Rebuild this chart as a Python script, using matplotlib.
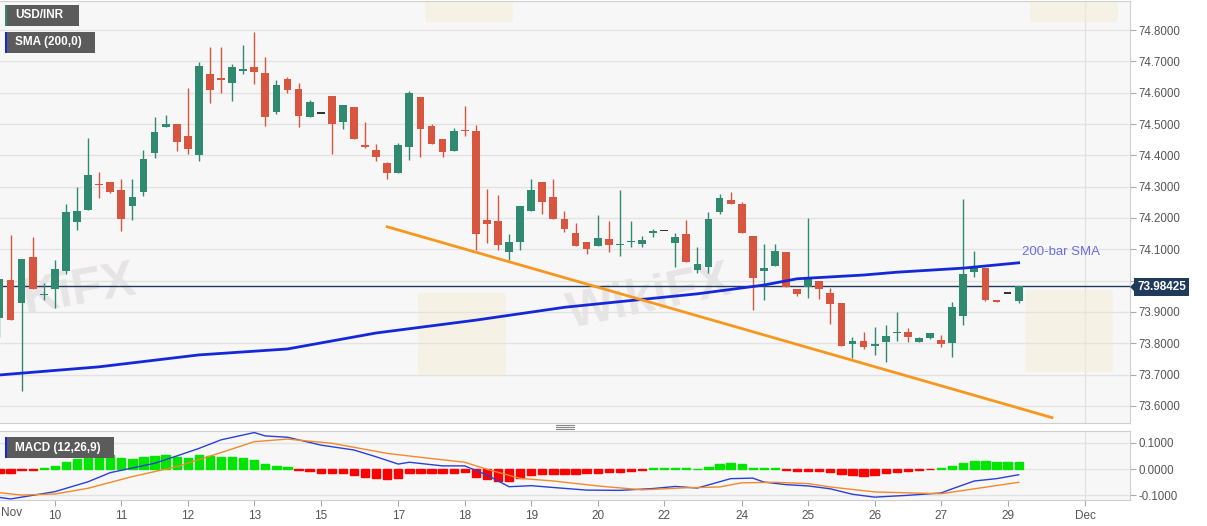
import numpy as np
import matplotlib.pyplot as plt
from matplotlib.patches import Rectangle, FancyBboxPatch, Polygon
from matplotlib.lines import Line2D

plt.rcParams['font.family'] = ['Liberation Sans', 'DejaVu Sans']

W, H = 1207, 526

# 4H candles, USD/INR
opens = [73.882, 74.002, 73.928, 74.076, 73.955, 73.972, 74.032, 74.186, 74.225, 74.309,
         74.314, 74.288, 74.239, 74.282, 74.409, 74.489, 74.500, 74.462, 74.401, 74.660,
         74.646, 74.632, 74.670, 74.683, 74.662, 74.539, 74.644, 74.612, 74.522, 74.536,
         74.589, 74.506, 74.555, 74.433, 74.417, 74.375, 74.344, 74.428, 74.587, 74.494,
         74.452, 74.414, 74.481, 74.479, 74.194, 74.192, 74.092, 74.122, 74.223, 74.314,
         74.266, 74.198, 74.153, 74.124, 74.110, 74.133, 74.114, 74.123, 74.116, 74.152,
         74.160, 74.119, 74.148, 74.034, 74.043, 74.218, 74.257, 74.244, 74.143, 74.032,
         74.048, 74.092, 73.972, 73.979, 74.000, 73.960, 73.930, 73.798, 73.806, 73.794,
         73.805, 73.833, 73.837, 73.805, 73.816, 73.811, 73.800, 73.888, 74.029, 74.040,
         73.938, 73.960, 73.935]
highs = [74.004, 74.146, 74.069, 74.140, 73.993, 74.066, 74.244, 74.298, 74.454, 74.348,
         74.314, 74.326, 74.323, 74.417, 74.521, 74.529, 74.500, 74.614, 74.697, 74.745,
         74.745, 74.691, 74.752, 74.793, 74.713, 74.640, 74.651, 74.630, 74.577, 74.536,
         74.589, 74.561, 74.555, 74.506, 74.435, 74.380, 74.438, 74.605, 74.587, 74.500,
         74.452, 74.486, 74.557, 74.497, 74.292, 74.273, 74.148, 74.238, 74.326, 74.314,
         74.326, 74.223, 74.183, 74.124, 74.209, 74.190, 74.289, 74.190, 74.144, 74.165,
         74.160, 74.151, 74.194, 74.107, 74.218, 74.277, 74.282, 74.250, 74.143, 74.117,
         74.117, 74.092, 73.972, 74.201, 74.000, 73.976, 73.930, 73.819, 73.835, 73.851,
         73.858, 73.899, 73.848, 73.820, 73.834, 73.827, 73.933, 74.261, 74.096, 74.042,
         73.938, 73.960, 73.984]
lows = [73.821, 73.874, 73.648, 73.972, 73.938, 73.912, 74.021, 74.163, 74.225, 74.265,
        74.279, 74.159, 74.194, 74.270, 74.390, 74.489, 74.414, 74.404, 74.382, 74.566,
        74.598, 74.572, 74.660, 74.627, 74.495, 74.531, 74.600, 74.490, 74.522, 74.536,
        74.404, 74.484, 74.452, 74.423, 74.382, 74.323, 74.344, 74.385, 74.394, 74.435,
        74.394, 74.414, 74.463, 74.098, 74.120, 74.098, 74.066, 74.098, 74.223, 74.213,
        74.196, 74.156, 74.112, 74.084, 74.110, 74.090, 74.079, 74.109, 74.106, 74.138,
        74.160, 74.045, 74.061, 74.023, 74.023, 74.213, 74.244, 74.153, 73.906, 73.938,
        74.048, 73.979, 73.952, 73.946, 73.943, 73.861, 73.791, 73.752, 73.782, 73.763,
        73.739, 73.809, 73.805, 73.805, 73.815, 73.787, 73.757, 73.858, 74.013, 73.935,
        73.933, 73.960, 73.930]
closes = [74.004, 73.874, 74.069, 73.972, 73.958, 74.037, 74.218, 74.222, 74.338, 74.304,
          74.284, 74.196, 74.266, 74.388, 74.474, 74.500, 74.443, 74.420, 74.685, 74.608,
          74.643, 74.681, 74.676, 74.667, 74.523, 74.624, 74.608, 74.526, 74.569, 74.536,
          74.501, 74.561, 74.452, 74.428, 74.394, 74.345, 74.434, 74.600, 74.484, 74.435,
          74.410, 74.478, 74.478, 74.149, 74.180, 74.114, 74.124, 74.238, 74.289, 74.252,
          74.196, 74.165, 74.112, 74.101, 74.135, 74.114, 74.117, 74.126, 74.129, 74.157,
          74.160, 74.138, 74.061, 74.052, 74.196, 74.263, 74.244, 74.153, 74.007, 74.039,
          74.095, 73.979, 73.959, 74.007, 73.972, 73.924, 73.791, 73.809, 73.789, 73.796,
          73.824, 73.837, 73.819, 73.816, 73.832, 73.798, 73.917, 74.021, 74.040, 73.938,
          73.933, 73.960, 73.98425]

# 200-bar SMA, read at some bars
sma_bars = [0, 9, 18, 26, 34, 43, 51, 56, 63, 69, 72, 78, 81, 87, 92]
sma_vals = [73.699, 73.725, 73.763, 73.782, 73.833, 73.874, 73.915, 73.933, 73.958,
            73.986, 74.006, 74.018, 74.027, 74.040, 74.057]

# falling trend line
trend_bars = [35, 95]
trend_vals = [74.172, 73.563]

# MACD (12,26,9)
macd_bars = [0, 1, 5, 8, 10, 14, 16, 18, 20, 23, 24, 26, 29, 32, 34, 36, 37, 40, 42, 44,
             46, 48, 50, 53, 56, 59, 61, 63, 66, 68, 69, 71, 73, 75, 77, 79, 82, 85, 86,
             88, 90, 92]
macd_vals = [-0.109, -0.115, -0.087, -0.049, -0.014, 0.022, 0.050, 0.079, 0.112, 0.140,
             0.127, 0.122, 0.092, 0.073, 0.047, 0.019, 0.026, 0.012, 0.012, -0.023,
             -0.068, -0.064, -0.071, -0.081, -0.082, -0.075, -0.067, -0.073, -0.037, -0.035,
             -0.050, -0.060, -0.065, -0.076, -0.097, -0.108, -0.101, -0.092, -0.076,
             -0.046, -0.037, -0.022]
signal_bars = [0, 2, 5, 8, 12, 16, 20, 23, 26, 30, 35, 38, 42, 44, 47, 50, 54, 58, 62, 65,
               67, 70, 73, 75, 79, 85, 88, 92]
signal_vals = [-0.091, -0.100, -0.096, -0.074, -0.029, 0.009, 0.063, 0.105, 0.115, 0.099,
               0.060, 0.045, 0.026, -0.001, -0.036, -0.046, -0.065, -0.080, -0.072, -0.069,
               -0.053, -0.051, -0.056, -0.069, -0.088, -0.095, -0.076, -0.051]
hist = [-0.016, -0.016, -0.004, -0.003, 0.003, 0.012, 0.028, 0.037, 0.050, 0.054,
        0.054, 0.041, 0.038, 0.045, 0.051, 0.054, 0.047, 0.041, 0.053, 0.051,
        0.047, 0.045, 0.041, 0.035, 0.019, 0.012, 0.006, -0.003, -0.006, -0.014,
        -0.017, -0.017, -0.024, -0.030, -0.033, -0.037, -0.036, -0.017, -0.017, -0.017,
        -0.017, -0.014, -0.012, -0.030, -0.038, -0.045, -0.047, -0.036, -0.024, -0.019,
        -0.019, -0.019, -0.019, -0.017, -0.017, -0.012, -0.012, -0.006, -0.004, 0.003,
        0.003, 0.003, 0.003, 0.001, 0.008, 0.018, 0.023, 0.018, 0.005, 0.003,
        0.002, -0.003, -0.008, -0.008, -0.008, -0.010, -0.020, -0.024, -0.026, -0.024,
        -0.017, -0.012, -0.008, -0.004, -0.001, 0.003, 0.010, 0.023, 0.032, 0.031,
        0.028, 0.027, 0.027]

tick_bars = [5, 11, 17, 23, 29, 36, 42, 48, 54, 60, 67, 73, 79, 85, 91, 98]
tick_labels = ['10', '11', '12', '13', '15', '17', '18', '19', '20', '22', '24', '25',
               '26', '27', '29', 'Dec']

GREEN = '#2f8a6f'
RED = '#d8553f'
BG = '#f7f7f7'
GRID = '#e3e3e3'
NAVY = '#1f3b5c'


def fx(px):
    return px / W


def fy(py):
    return 1 - py / H


fig = plt.figure(figsize=(W / 100, H / 100), dpi=100)
fig.patch.set_facecolor('white')

ax = fig.add_axes([0, fy(423), fx(1130), fy(1) - fy(423)])
mx = fig.add_axes([0, fy(500), fx(1130), fy(431) - fy(500)], sharex=ax)

for a in (ax, mx):
    a.set_facecolor(BG)
    a.spines['left'].set_visible(False)
    for s in ('top', 'right', 'bottom'):
        a.spines[s].set_color('#cfcfcf')
    a.yaxis.tick_right()
    a.tick_params(axis='y', colors='#aaaaaa', labelcolor='#555555', labelsize=8.3,
                  length=4, pad=2)
    a.axvline(98, color=GRID, lw=1, zorder=0)

# faint logo squares behind the price marks
for (x0, y0) in [(423, 373), (1030, 370), (430, 20), (1035, 20)]:
    ax.add_patch(FancyBboxPatch((fx(x0), fy(y0)), fx(78), 78 / H,
                                boxstyle='round,pad=0.004', transform=fig.transFigure,
                                fc='#f4ecd0', ec='none', alpha=0.45, zorder=0.5))

# watermark text
wm = dict(color='#d6d1d1', fontsize=36, fontweight='bold', alpha=0.5, zorder=1)
ax.text(fx(140), fy(290), 'KiFX', transform=fig.transFigure, ha='right', va='center',
        rotation=10, **wm)
ax.text(fx(650), fy(298), 'WikiFX', transform=fig.transFigure, ha='center', va='center',
        rotation=12, **wm)

# price panel
o = np.array(opens)
h = np.array(highs)
l = np.array(lows)
c = np.array(closes)
idx = np.arange(len(o))
cols = np.where(c > o, GREEN, np.where(c < o, RED, '#333333'))
body = np.abs(c - o)
hmin = 0.005
bot = np.minimum(o, c) - np.clip(hmin - body, 0, None) / 2
ax.vlines(idx, l, h, colors=cols, lw=1, zorder=3)
ax.bar(idx, np.maximum(body, hmin), bottom=bot, width=0.7, color=cols, zorder=4)

ax.plot(sma_bars, sma_vals, color='#1428d8', lw=2, zorder=5)
ax.plot(trend_bars, trend_vals, color='#f7971e', lw=2, zorder=5)
ax.axhline(closes[-1], color=NAVY, lw=1, zorder=2)
ax.text(92.3, 74.092, '200-bar SMA', color='#6d6de0', fontsize=9.5, va='center',
        zorder=6)

ax.set_xlim(0.05, 102.05)
ax.set_ylim(73.5457, 74.8926)
yt = np.arange(73.6, 74.85, 0.1)
ax.set_yticks(yt)
# 74.0000 sits under the last-price box
ax.set_yticklabels(['' if abs(v - 74.0) < 1e-6 else '%.4f' % v for v in yt])
ax.grid(axis='y', color=GRID, lw=1, zorder=0)
ax.tick_params(axis='x', bottom=False, labelbottom=False)

# MACD panel
hv = np.array(hist)
hcols = np.where(hv >= 0, '#00e600', '#ff0000')
mx.bar(idx, hv, width=0.75, color=hcols, edgecolor=hcols, lw=1, zorder=3)
mx.plot(macd_bars, macd_vals, color='#2a3fd6', lw=1, zorder=4)
mx.plot(signal_bars, signal_vals, color='#f08a2c', lw=1, zorder=4)
mx.set_ylim(-0.119, 0.146)
mx.set_yticks([-0.1, 0.0, 0.1])
mx.set_yticklabels(['-0.1000', '0.0000', '0.1000'])
mx.grid(axis='y', color=GRID, lw=1, zorder=0)
mx.set_xticks(tick_bars)
mx.set_xticklabels(tick_labels)
mx.tick_params(axis='x', colors='#aaaaaa', labelcolor='#555555', labelsize=8.5,
               length=4, pad=3)
fig.text(fx(1), fy(513), 'Nov', color='#555555', fontsize=8.5, va='center', ha='left')

# price label on the axis
fig.text(fx(1137), fy(287), '%.5f' % closes[-1], color='white', fontweight='bold',
         fontsize=8.5, va='center', ha='left',
         bbox=dict(boxstyle='square,pad=0.25', fc=NAVY, ec='none'), zorder=10)
fig.add_artist(Polygon([(fx(1130), fy(287)), (fx(1135), fy(282)), (fx(1135), fy(292))],
                       closed=True, transform=fig.transFigure, fc=NAVY, ec='none',
                       zorder=10))

# legend boxes top-left
def tag(y0, w, text, stripe):
    fig.add_artist(Rectangle((fx(5), fy(y0 + 21)), fx(w), 21 / H,
                             transform=fig.transFigure, fc='#5b5b5b', ec='none', zorder=9))
    fig.add_artist(Rectangle((fx(5), fy(y0 + 21)), fx(2), 21 / H,
                             transform=fig.transFigure, fc=stripe, ec='none', zorder=10))
    fig.text(fx(15), fy(y0 + 10.5), text, color='white', fontweight='bold', fontsize=8.5,
             va='center', ha='left', zorder=11)


tag(5, 74, 'USD/INR', GREEN)
tag(32, 90, 'SMA (200,0)', '#1428d8')
tag(437, 109, 'MACD (12,26,9)', '#1428d8')

# panel resize handle
for dy in (425, 427, 429):
    fig.add_artist(Line2D([fx(556), fx(574)], [fy(dy), fy(dy)], color='#888888', lw=0.8,
                          transform=fig.transFigure))

fig.savefig('out.png', dpi=100, facecolor='white')
